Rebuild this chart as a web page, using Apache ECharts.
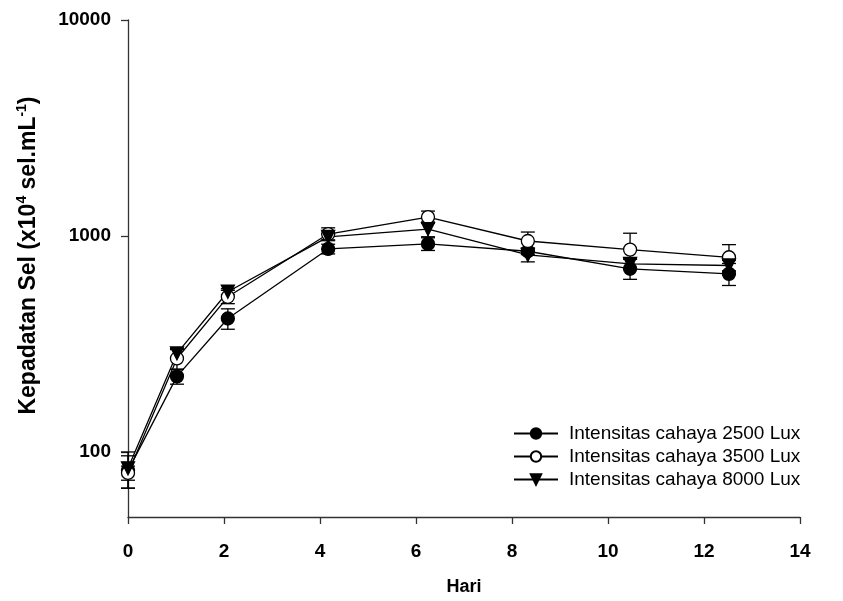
<!DOCTYPE html>
<html><head><meta charset="utf-8">
<script src="https://cdn.jsdelivr.net/npm/echarts@6/dist/echarts.min.js"></script>
<style>html,body{margin:0;padding:0;background:#fff}#c{width:843px;height:601px}</style>
</head><body><div id="c"></div>
<script>
// x positions of the points (Hari)
const days = [0, 1.02, 2.08, 4.17, 6.25, 8.33, 10.46, 12.52];
const seriesNames = ['Intensitas cahaya 2500 Lux', 'Intensitas cahaya 3500 Lux', 'Intensitas cahaya 8000 Lux'];
const lux2500 = [82, 224, 415, 871, 919, 850, 705, 668];
const lux3500 = [80, 271, 523, 1021, 1224, 948, 865, 797];
const lux8000 = [84, 286, 552, 990, 1077, 817, 743, 730];
const err2500 = [14, 18, 45, 45, 62, 30, 75, 78];
const err3500 = [6, 30, 37, 70, 80, 95, 165, 115];
const err8000 = [16, 12, 18, 30, 85, 58, 40, 40];
const yTickValues = [100, 1000, 10000];
const xMin = 0, xMax = 14, xStep = 2;
const yMin = 50, yMax = 10000;

const FONT = 'Arial, "Liberation Sans", sans-serif';
const chart = echarts.init(document.getElementById('c'), null, {renderer: 'canvas'});

function pts(vals) { return days.map((d, i) => [d, vals[i]]); }
function errData(vals, errs) { return days.map((d, i) => [d, vals[i] - errs[i], vals[i] + errs[i]]); }

function errSeries(vals, errs) {
  return {
    type: 'custom',
    silent: true,
    z: 1,
    data: errData(vals, errs),
    encode: {x: 0, y: [1, 2]},
    renderItem: function (params, api) {
      const x = api.value(0);
      const lo = api.coord([x, api.value(1)]);
      const hi = api.coord([x, api.value(2)]);
      const hw = 7;
      const st = {stroke: '#000', lineWidth: 1.3};
      return {
        type: 'group',
        children: [
          {type: 'line', shape: {x1: lo[0], y1: lo[1], x2: hi[0], y2: hi[1]}, style: st},
          {type: 'line', shape: {x1: lo[0] - hw, y1: lo[1], x2: lo[0] + hw, y2: lo[1]}, style: st},
          {type: 'line', shape: {x1: hi[0] - hw, y1: hi[1], x2: hi[0] + hw, y2: hi[1]}, style: st}
        ]
      };
    }
  };
}

function lineSeries(name, vals, symbol, fill) {
  return {
    name: name,
    type: 'line',
    z: 3,
    data: pts(vals),
    symbol: symbol,
    symbolSize: 13,
    showAllSymbol: true,
    lineStyle: {color: '#000', width: 1.3},
    itemStyle: {color: fill, borderColor: '#000', borderWidth: 1.3},
    emphasis: {disabled: true}
  };
}

const option = {
  animation: false,
  backgroundColor: '#fff',
  textStyle: {fontFamily: FONT},
  grid: {left: 128, right: 43, top: 20, bottom: 83, containLabel: false},
  legend: {
    data: seriesNames,
    orient: 'vertical',
    left: 513, top: 424, padding: 0,
    itemWidth: 44, itemHeight: 13, itemGap: 4,
    textStyle: {fontSize: 19, color: '#000', fontFamily: FONT, padding: [0, 0, 0, 6]},
    selectedMode: false
  },
  xAxis: {
    type: 'value', min: xMin, max: xMax, interval: xStep,
    name: 'Hari', nameLocation: 'middle', nameGap: 61,
    nameTextStyle: {fontSize: 18, fontWeight: 'bold', color: '#000', fontFamily: FONT},
    axisLine: {lineStyle: {color: '#333', width: 1.3}},
    axisTick: {show: true, inside: false, length: 7, lineStyle: {color: '#333', width: 1.3}},
    axisLabel: {fontSize: 19, fontWeight: 'bold', color: '#000', margin: 25, fontFamily: FONT},
    splitLine: {show: false}
  },
  yAxis: {
    type: 'log', logBase: 10, min: yMin, max: yMax,
    name: '{b|Kepadatan Sel (x10}{s|4}{b| sel.mL}{s|-1}{b|)}',
    nameLocation: 'middle', nameRotate: 90, nameGap: 86,
    nameTextStyle: {
      color: '#000', fontFamily: FONT, padding: [0, 0, 0, 26],
      rich: {
        b: {fontSize: 23, fontWeight: 'bold', color: '#000', lineHeight: 27, fontFamily: FONT},
        s: {fontSize: 14, fontWeight: 'bold', color: '#000', lineHeight: 14, verticalAlign: 'top', fontFamily: FONT}
      }
    },
    axisLine: {show: true, lineStyle: {color: '#333', width: 1.3}},
    axisTick: {show: true, inside: false, length: 7, customValues: yTickValues, lineStyle: {color: '#333', width: 1.3}},
    axisLabel: {fontSize: 19, fontWeight: 'bold', color: '#000', margin: 17, customValues: yTickValues, fontFamily: FONT,
      formatter: function (v) { return String(Math.round(v)); }},
    splitLine: {show: false},
    minorTick: {show: false}
  },
  series: [
    errSeries(lux2500, err2500),
    errSeries(lux3500, err3500),
    errSeries(lux8000, err8000),
    lineSeries(seriesNames[0], lux2500, 'circle', '#000'),
    lineSeries(seriesNames[1], lux3500, 'circle', '#fff'),
    lineSeries(seriesNames[2], lux8000, 'path://M0,0 L12,0 L6,11 Z', '#000')
  ]
};
chart.setOption(option);
</script>
</body></html>
